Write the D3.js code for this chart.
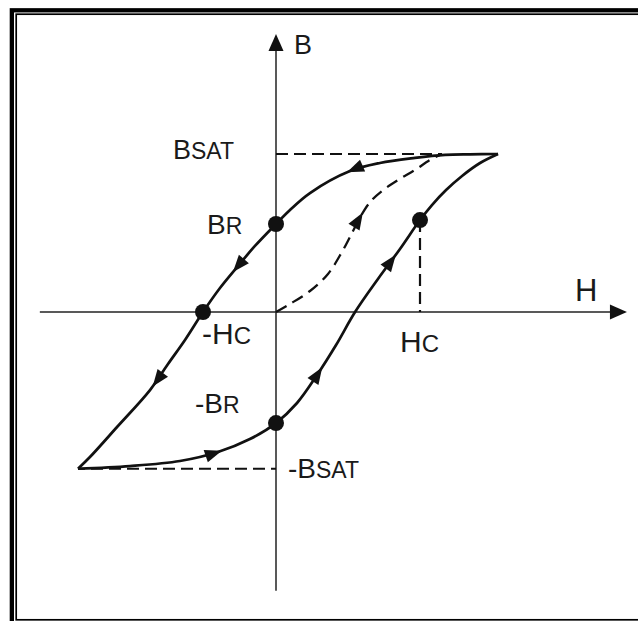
<!DOCTYPE html>
<html>
<head>
<meta charset="utf-8">
<script src="https://cdn.jsdelivr.net/npm/d3@7"></script>
<style>
  html, body { margin: 0; padding: 0; background: #fff; }
  svg { display: block; }
  text { font-family: "Liberation Sans", Arial, Helvetica, sans-serif; fill: #1a1a1a; }
</style>
</head>
<body>
<script>
// B–H hysteresis loop of a ferromagnetic material, H = field, B = flux density.
// Points are [H, B] in units of coercive field (Hc = 1) and saturation flux (Bsat = 1).

// Upper branch: from positive saturation back to negative saturation
const descending = [
  [1.542, 1.000], [1.347, 0.998], [1.174, 0.994], [0.965, 0.975], [0.722, 0.943],
  [0.514, 0.892], [0.236, 0.753], [0.097, 0.646], [0.000, 0.557], [-0.146, 0.418],
  [-0.264, 0.291], [-0.389, 0.152], [-0.507, 0.000], [-0.632, -0.177], [-0.750, -0.329],
  [-0.875, -0.494], [-1.104, -0.728], [-1.292, -0.918], [-1.375, -0.992]
];

// Lower branch: from negative saturation up to positive saturation
const ascending = [
  [-1.375, -0.992], [-1.014, -0.975], [-0.667, -0.943], [-0.403, -0.886], [-0.181, -0.804],
  [0.000, -0.703], [0.146, -0.576], [0.285, -0.399], [0.417, -0.209], [0.549, 0.000],
  [0.708, 0.209], [0.861, 0.399], [1.000, 0.582], [1.083, 0.677], [1.181, 0.772],
  [1.292, 0.861], [1.417, 0.943], [1.542, 1.000]
];

// Initial magnetization curve of a demagnetized sample
const initial = [
  [0.000, 0.000], [0.097, 0.051], [0.236, 0.133], [0.361, 0.241], [0.458, 0.380],
  [0.535, 0.513], [0.597, 0.620], [0.660, 0.703], [0.736, 0.766], [0.847, 0.835],
  [0.965, 0.899], [1.069, 0.962], [1.153, 1.000]
];

// Marked points: remanence and coercivity
const keyPoints = [
  { name: "Br",  H: 0.000,  B: 0.557 },
  { name: "-Hc", H: -0.507, B: 0.000 },
  { name: "Hc",  H: 1.000,  B: 0.582 },
  { name: "-Br", H: 0.000,  B: -0.703 }
];

// Saturation levels and their extents along H
const bSat = 1.0, bSatNeg = -0.992;
const hSatEnd = 1.153, hSatNegStart = -1.375;

// Direction arrows: curve and the point where each arrow tip sits
const arrowMarks = [
  { curve: "descending", at: [0.493, 0.886] },
  { curve: "descending", at: [-0.299, 0.253] },
  { curve: "descending", at: [-0.861, -0.468] },
  { curve: "ascending",  at: [-0.375, -0.880] },
  { curve: "ascending",  at: [0.319, -0.348] },
  { curve: "ascending",  at: [0.833, 0.361] },
  { curve: "initial",    at: [0.597, 0.633] }
];

// Axis extents
const hAxisRange = [-1.64, 2.437];
const bAxisRange = [-1.765, 1.76];

// Axis names and point labels: [main letter, small-caps suffix]
const axisNames = { H: "H", B: "B" };
const labelTexts = {
  bsat: ["B", "SAT"], br: ["B", "R"], negHc: ["-H", "C"],
  hc: ["H", "C"], negBr: ["-B", "R"], negBsat: ["-B", "SAT"]
};

const W = 638, Hh = 621;
const svg = d3.select("body").append("svg").attr("width", W).attr("height", Hh);

// Double frame (runs off the right and bottom edges)
svg.append("rect").attr("x", 11.85).attr("y", 10.3).attr("width", 700).attr("height", 700)
  .attr("fill", "none").attr("stroke", "#000").attr("stroke-width", 4.3);
svg.append("rect").attr("x", 16.2).attr("y", 14.2).attr("width", 700).attr("height", 605.6)
  .attr("fill", "none").attr("stroke", "#000").attr("stroke-width", 1.7);

const x = d3.scaleLinear().domain([0, 1]).range([276, 420]);
const y = d3.scaleLinear().domain([0, 1]).range([312, 154]);

const line = d3.line().x(d => x(d[0])).y(d => y(d[1])).curve(d3.curveCatmullRom.alpha(0.5));
const straight = d3.line().x(d => x(d[0])).y(d => y(d[1]));

// Axes
const axisG = svg.append("g").attr("stroke", "#222").attr("stroke-width", 1.5).attr("fill", "none");
axisG.append("path").attr("d", straight([[hAxisRange[0], 0], [hAxisRange[1] - 0.1, 0]]));
axisG.append("path").attr("d", straight([[0, bAxisRange[0]], [0, bAxisRange[1] - 0.09]]));

// Axis arrowheads
function tri(tipX, tipY, angle, len, half) {
  const c = Math.cos(angle), s = Math.sin(angle);
  const bx = tipX - c * len, by = tipY - s * len;
  return `M${tipX},${tipY}L${bx - s * half},${by + c * half}L${bx + s * half},${by - c * half}Z`;
}
svg.append("path").attr("d", tri(x(hAxisRange[1]), y(0), 0, 17, 7.5)).attr("fill", "#111");
svg.append("path").attr("d", tri(x(0), y(bAxisRange[1]), -Math.PI / 2, 17, 7.5)).attr("fill", "#111");

// Dashed guides for saturation and coercivity
const guideG = svg.append("g").attr("stroke", "#111").attr("stroke-width", 2.2)
  .attr("stroke-dasharray", "12,6").attr("fill", "none");
guideG.append("path").attr("d", straight([[0, bSat], [hSatEnd, bSat]]));
guideG.append("path").attr("d", straight([[hSatNegStart, bSatNeg], [0, bSatNeg]]))
  .attr("stroke-dashoffset", 5);
const hcPt = keyPoints.find(p => p.name === "Hc");
guideG.append("path").attr("d", straight([[hcPt.H, hcPt.B], [hcPt.H, 0]]));

// Curves
const curves = {};
curves.initial = svg.append("path").attr("d", line(initial)).attr("fill", "none")
  .attr("stroke", "#111").attr("stroke-width", 2.3).attr("stroke-dasharray", "12,7");
curves.descending = svg.append("path").attr("d", line(descending)).attr("fill", "none")
  .attr("stroke", "#111").attr("stroke-width", 2.7);
curves.ascending = svg.append("path").attr("d", line(ascending)).attr("fill", "none")
  .attr("stroke", "#111").attr("stroke-width", 2.7);

// Direction arrows placed on the curves
arrowMarks.forEach(a => {
  const node = curves[a.curve].node();
  const total = node.getTotalLength();
  const tx = x(a.at[0]), ty = y(a.at[1]);
  let best = 0, bestD = Infinity;
  for (let l = 0; l <= total; l += 0.5) {
    const p = node.getPointAtLength(l);
    const d = (p.x - tx) ** 2 + (p.y - ty) ** 2;
    if (d < bestD) { bestD = d; best = l; }
  }
  const p0 = node.getPointAtLength(Math.max(0, best - 5));
  const p1 = node.getPointAtLength(Math.min(total, best + 5));
  const p = node.getPointAtLength(best);
  const ang = Math.atan2(p1.y - p0.y, p1.x - p0.x);
  svg.append("path").attr("d", tri(p.x, p.y, ang, 17, 6.5)).attr("fill", "#111");
});

// Marked points
svg.selectAll("circle.key").data(keyPoints).join("circle").attr("class", "key")
  .attr("cx", d => x(d.H)).attr("cy", d => y(d.B)).attr("r", 8).attr("fill", "#111");

// Labels
function label(parts, px, py, big, small) {
  const t = svg.append("text").attr("x", px).attr("y", py);
  t.append("tspan").attr("font-size", big).text(parts[0]);
  t.append("tspan").attr("font-size", small).text(parts[1]);
}
svg.append("text").attr("x", x(0) + 18).attr("y", y(bAxisRange[1]) + 20)
  .attr("font-size", 27).text(axisNames.B);
svg.append("text").attr("x", x(hAxisRange[1]) - 52).attr("y", y(0) - 11)
  .attr("font-size", 31).text(axisNames.H);

label(labelTexts.bsat, x(0) - 103, y(bSat) + 5, 27, 23);
label(labelTexts.br, x(0) - 69, y(0.557) + 10, 28, 23);
label(labelTexts.negHc, x(-0.507) - 1, y(0) + 32, 30, 24);
label(labelTexts.hc, x(1) - 20, y(0) + 39.5, 30, 24);
label(labelTexts.negBr, x(0) - 81, y(-0.703) - 10, 28, 23);
label(labelTexts.negBsat, x(0) + 12, y(bSatNeg) + 9, 28, 23);
</script>
</body>
</html>
